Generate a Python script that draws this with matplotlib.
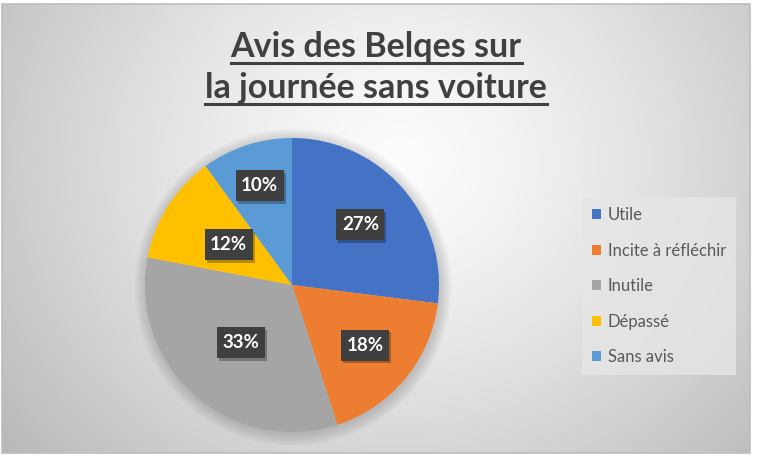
import matplotlib
matplotlib.use("Agg")
import matplotlib.pyplot as plt
import numpy as np
from matplotlib.patches import Rectangle, Circle
from matplotlib.lines import Line2D

plt.rcParams['font.family'] = ['Lato', 'DejaVu Sans']

# data
categories = ["Utile", "Incite à réfléchir", "Inutile", "Dépassé", "Sans avis"]
shares = [27, 18, 33, 12, 10]
colors = ["#4472C4", "#ED7D31", "#A5A5A5", "#FFC000", "#5B9BD5"]
title_lines = ["Avis des Belqes sur", "la journée sans voiture"]

# where excel put each label, as a fraction of the radius
label_radius = [0.62, 0.645, 0.525, 0.51, 0.71]

W, H = 757, 459
fig = plt.figure(figsize=(W / 100, H / 100), dpi=100)
fig.patch.set_facecolor("white")

# background with radial gradient, in pixel coordinates
bg = fig.add_axes([0, 0, 1, 1])
bg.set_xlim(0, W)
bg.set_ylim(H, 0)
bg.axis("off")
yy, xx = np.mgrid[4:453, 2:750]
d = np.hypot(xx - 400, (yy - 160) / 0.9)
v = np.clip(0.99 - 0.24 * (d / 470) ** 1.3, 0, 1)
bg.imshow(np.dstack([v, v, v]), extent=(2, 750, 453, 4), aspect="auto",
          interpolation="bilinear")
bg.add_patch(Rectangle((2, 4), 748, 449, fill=False, edgecolor="#bdbdbd", lw=1.2))

# soft shadow around the pie
cx, cy, r = 292, 285, 147
for k in range(8):
    bg.add_patch(Circle((cx + 1, cy + 2), r + 1 + k * 1.5, facecolor="#000000",
                        alpha=0.018, edgecolor="none"))

# pie
ax = fig.add_axes([(cx - r) / W, (H - cy - r) / H, 2 * r / W, 2 * r / H])
wedges, _ = ax.pie(shares, colors=colors, startangle=90, counterclock=False,
                   wedgeprops=dict(linewidth=0))
ax.set_xlim(-1, 1)
ax.set_ylim(-1, 1)
ax.set_aspect("auto")

px = 2.0 / (2 * r)  # one pixel in pie units
for w, val, rad in zip(wedges, shares, label_radius):
    ang = np.deg2rad((w.theta1 + w.theta2) / 2)
    x, y = rad * np.cos(ang), rad * np.sin(ang)
    bw, bh = 48 * px, 31 * px
    ax.add_patch(Rectangle((x - bw / 2 + 2 * px, y - bh / 2 - 2.5 * px), bw, bh,
                           facecolor="#000000", alpha=0.28, edgecolor="none", zorder=3))
    ax.add_patch(Rectangle((x - bw / 2, y - bh / 2), bw, bh,
                           facecolor="#3f3f3f", edgecolor="none", zorder=4))
    ax.text(x, y, f"{val}%", ha="center", va="center", color="white",
            fontsize=13.5, fontweight="bold", zorder=5)

# title with underline
title_base = [57, 98]
fig.canvas.draw()
renderer = fig.canvas.get_renderer()
for line, ty in zip(title_lines, title_base):
    t = bg.text(376, ty, line, ha="center", va="baseline", fontsize=24.5,
                fontweight="bold", color="#404040")
    bb = t.get_window_extent(renderer)
    bg.add_line(Line2D([bb.x0, bb.x1], [ty + 6, ty + 6], color="#404040", lw=2.2))

# legend
leg = fig.legend(wedges, categories, loc="upper left",
                 bbox_to_anchor=(582 / W, 1 - 197 / H), frameon=True,
                 fontsize=12, labelcolor="#595959", handlelength=0.55,
                 handleheight=0.55, handletextpad=0.4, labelspacing=1.17,
                 borderpad=0.6, borderaxespad=0)
leg.get_frame().set_facecolor("#e6e6e6")
leg.get_frame().set_edgecolor("none")
leg.get_frame().set_alpha(0.8)
leg.get_frame().set_boxstyle("square", pad=0)

fig.savefig("out.png", dpi=100)
